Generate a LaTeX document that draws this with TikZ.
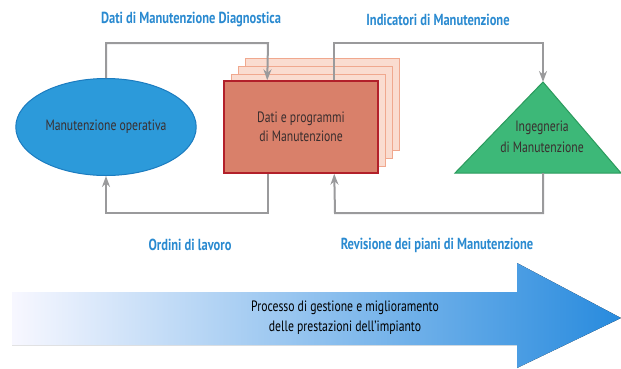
\documentclass[tikz,border=0pt]{standalone}
\usepackage{fontspec}
\setmainfont{PT Sans}[FakeStretch=0.78]
\usetikzlibrary{shapes.geometric,arrows.meta,calc}

\definecolor{opblue}{HTML}{2C9ADA}
\definecolor{opborder}{HTML}{1C7CC0}
\definecolor{boxfill}{HTML}{D9806A}
\definecolor{boxborder}{HTML}{B2202A}
\definecolor{pagefill}{HTML}{FADCD0}
\definecolor{pageborder}{HTML}{F0A88E}
\definecolor{ingfill}{HTML}{3DB878}
\definecolor{ingborder}{HTML}{2A9A5C}
\definecolor{lblblue}{HTML}{2A8AD0}
\definecolor{conngray}{HTML}{9A9A9C}
\definecolor{txtdark}{HTML}{3A2E2E}

\tikzset{
  conn/.style={draw=conngray,line width=2pt,-{Stealth[length=11pt,width=8pt]}},
  flowlabel/.style={text=lblblue,font=\fontsize{16}{18}\selectfont\bfseries},
  boxtext/.style={text=txtdark,font=\fontsize{15}{19}\selectfont,align=center},
  page/.style={fill=pagefill,draw=pageborder,line width=1pt}
}

\begin{document}
\begin{tikzpicture}[x=1pt,y=-1pt]
  \useasboundingbox (0,0) rectangle (621,368);

  % big process arrow
  \fill[left color=blue!3!white,right color=opblue!90!blue,shading angle=90]
    (12,292) -- (517,292) -- (517,263) -- (621,318) -- (517,368) -- (517,345) -- (12,345) -- cycle;
  \node (proc) [boxtext,text=black,font=\fontsize{15}{20}\selectfont] at (345,318) {Processo di gestione e miglioramento\\delle prestazioni dell'impianto};

  % operational maintenance
  \node (op) [ellipse,fill=opblue,draw=opborder,line width=1pt,minimum width=170pt,minimum height=97pt,boxtext]
    at (106,127) {Manutenzione operativa};

  % stacked pages behind the data box
  \foreach \i in {3,2,1}
    \draw[page] (224+7*\i,82-8*\i) rectangle (378+7*\i,174-8*\i);
  \node (dati) [fill=boxfill,draw=boxborder,line width=1.5pt,minimum width=154pt,minimum height=92pt,boxtext]
    at (301,127) {Dati e programmi\\di Manutenzione};

  % engineering triangle
  \coordinate (ingtop) at (543,82);
  \coordinate (ingbot) at (543,173);
  \draw[fill=ingfill,draw=ingborder,line width=1pt] (ingtop) -- (621,173) -- (455,173) -- cycle;
  \node (ing) [boxtext,font=\fontsize{15}{21}\selectfont] at (542,137) {Ingegneria\\di Manutenzione};

  % connectors
  \draw[conn] (op.north) |- (268,43) -- ([xshift=44pt]dati.north west);
  \draw[conn] ([xshift=111pt]dati.north west) |- (543,43) -- (ingtop);
  \draw[conn] ([xshift=45pt]dati.south west) |- (106,213) -- (op.south);
  \draw[conn] (ingbot) |- (335,213) -- ([xshift=111pt]dati.south west);

  % labels
  \node (ldiag) [flowlabel] at (191,20) {Dati di Manutenzione Diagnostica};
  \node (lind) [flowlabel] at (438,20) {Indicatori di Manutenzione};
  \node (lord) [flowlabel] at (190,245) {Ordini di lavoro};
  \node (lrev) [flowlabel] at (437,245) {Revisione dei piani di Manutenzione};
\end{tikzpicture}
\end{document}
